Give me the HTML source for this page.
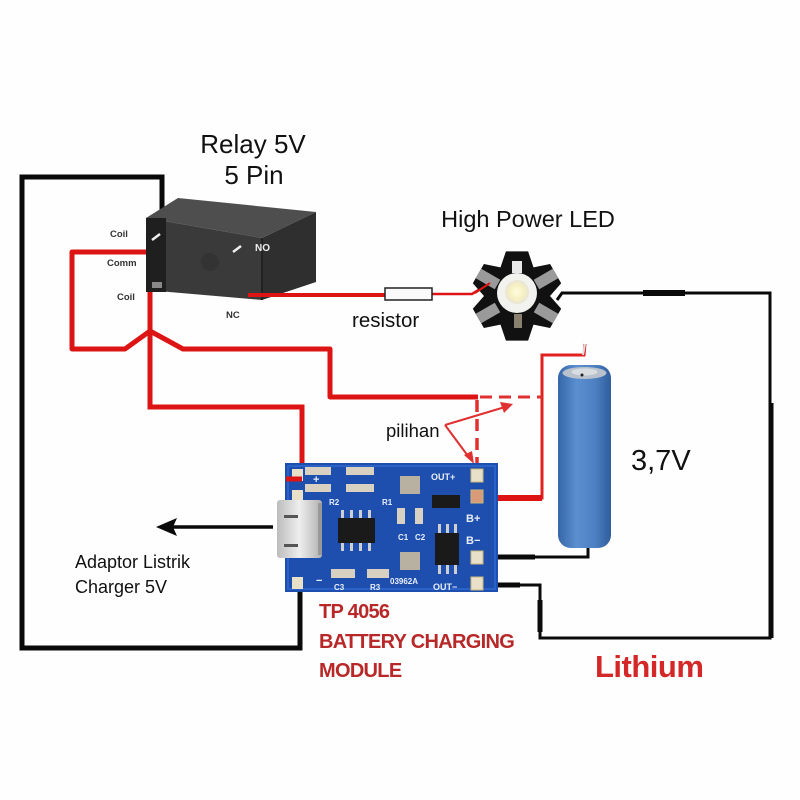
<!DOCTYPE html>
<html><head><meta charset="utf-8"><style>
html,body{margin:0;padding:0;background:#fff;}
svg{display:block;}
text{font-family:"Liberation Sans",sans-serif;}
</style></head><body>
<svg width="800" height="800" viewBox="0 0 800 800" xmlns="http://www.w3.org/2000/svg">
<defs>
<linearGradient id="bat" x1="0" x2="1" y1="0" y2="0">
<stop offset="0" stop-color="#3566a8"/><stop offset="0.35" stop-color="#5a8fd0"/><stop offset="0.7" stop-color="#4c80c2"/><stop offset="1" stop-color="#2f5c9c"/>
</linearGradient>
<linearGradient id="usb" x1="0" x2="1" y1="0" y2="0">
<stop offset="0" stop-color="#bcbcbc"/><stop offset="0.5" stop-color="#eeeeee"/><stop offset="1" stop-color="#b0b0b0"/>
</linearGradient>
<radialGradient id="led" cx="0.5" cy="0.5" r="0.5">
<stop offset="0" stop-color="#fffde0"/><stop offset="0.6" stop-color="#f6f0c0"/><stop offset="1" stop-color="#e8e4d8"/>
</radialGradient>
</defs>
<rect width="800" height="800" fill="#fefefe"/>

<!-- Titles -->
<text x="253" y="153" font-size="26" text-anchor="middle" fill="#111">Relay 5V</text>
<text x="254" y="184" font-size="26" text-anchor="middle" fill="#111">5 Pin</text>
<text x="528" y="227" font-size="23.5" text-anchor="middle" fill="#111">High Power LED</text>

<!-- Left black loop -->
<polyline points="162,231 162,177 22,177 22,648 300,648 300,583" fill="none" stroke="#0a0a0a" stroke-width="5" stroke-linejoin="miter"/>

<!-- Red wires relay -->
<polyline points="148,252 72,252 72,349 125,349 150,331 183,349 330,349 330,397 478,397" fill="none" stroke="#dd1414" stroke-width="5" stroke-linejoin="round"/>
<polyline points="150,285 150,407 302,407 302,479 286,479" fill="none" stroke="#dd1414" stroke-width="5" stroke-linejoin="miter"/>

<!-- Relay body -->
<polygon points="146,218 178,198 316,212 262,238" fill="#4e4e4e"/>
<polygon points="146,218 262,238 262,300 146,290" fill="#3a3a3a"/>
<polygon points="262,238 316,212 316,282 262,300" fill="#2f2f2f"/>
<rect x="146" y="218" width="20" height="74" fill="#1f1f1f"/>
<circle cx="210" cy="262" r="9" fill="#333"/>
<line x1="262" y1="238" x2="262" y2="300" stroke="#222" stroke-width="2"/>
<line x1="152" y1="240" x2="160" y2="234" stroke="#eee" stroke-width="2.5"/>
<line x1="233" y1="252" x2="241" y2="246" stroke="#eee" stroke-width="2.5"/>
<text x="255" y="251" font-size="10" font-weight="bold" fill="#eee">NO</text>
<rect x="152" y="282" width="10" height="6" fill="#888"/>
<text x="110" y="237" font-size="9.5" font-weight="bold" fill="#333">Coil</text>
<text x="107" y="266" font-size="9.5" font-weight="bold" fill="#333">Comm</text>
<text x="117" y="300" font-size="9.5" font-weight="bold" fill="#333">Coil</text>
<text x="226" y="318" font-size="9.5" font-weight="bold" fill="#333">NC</text>

<!-- Relay to resistor to LED -->
<polyline points="248,295 385,295" fill="none" stroke="#dd1414" stroke-width="4"/>
<polyline points="432,294 472,294 490,283" fill="none" stroke="#dd1414" stroke-width="2.5"/>
<rect x="385" y="288" width="47" height="12" fill="#fafafa" stroke="#222" stroke-width="1.5"/>
<text x="352" y="327" font-size="20.5" fill="#111">resistor</text>

<!-- LED star -->
<polygon points="505.9,251.4 528.1,251.4 533.5,267.4 550.1,264.0 561.2,283.3 550,296 561.2,308.7 550.1,328.0 533.5,324.6 528.1,340.6 505.9,340.6 500.5,324.6 483.9,328.0 472.8,308.7 484,296 472.8,283.3 483.9,264.0 500.5,267.4" fill="#111"/>
<rect x="-5.5" y="-11" width="11" height="22" fill="#9a9a9a" transform="translate(546,279) rotate(60)"/>
<rect x="-5.5" y="-11" width="11" height="22" fill="#9a9a9a" transform="translate(546,313) rotate(-60)"/>
<rect x="-5.5" y="-11" width="11" height="22" fill="#9a9a9a" transform="translate(488,313) rotate(60)"/>
<rect x="-5.5" y="-11" width="11" height="22" fill="#9a9a9a" transform="translate(488,279) rotate(-60)"/>
<rect x="512" y="261" width="10" height="12" fill="#e8e8e8"/>
<rect x="514" y="314" width="8" height="14" fill="#8a8070"/>
<circle cx="517" cy="293" r="20" fill="#f2f2ee"/>
<circle cx="517" cy="292" r="12" fill="url(#led)"/>
<polyline points="490,283 475,293" fill="none" stroke="#dd1414" stroke-width="2"/>

<!-- Right black wire loop -->
<polyline points="557,300 562,293 770,293 770,638 540,638 540,585 492,585" fill="none" stroke="#0a0a0a" stroke-width="3"/>
<line x1="643" y1="293" x2="685" y2="293" stroke="#0a0a0a" stroke-width="6"/>
<line x1="771" y1="403" x2="771" y2="638" stroke="#0a0a0a" stroke-width="5"/>
<line x1="540" y1="600" x2="540" y2="632" stroke="#0a0a0a" stroke-width="5"/>
<line x1="492" y1="585" x2="520" y2="585" stroke="#0a0a0a" stroke-width="5"/>

<!-- Battery wire -->
<polyline points="488,557 588,557 588,546" fill="none" stroke="#0a0a0a" stroke-width="3"/>
<line x1="488" y1="557" x2="535" y2="557" stroke="#0a0a0a" stroke-width="5"/>

<!-- Red battery + wire and dashed option -->
<polyline points="478,498 542,498 542,355 584,355 585,344" fill="none" stroke="#e22020" stroke-width="3"/>
<line x1="478" y1="498" x2="542" y2="498" stroke="#dd1414" stroke-width="6"/>
<line x1="480" y1="397" x2="542" y2="397" stroke="#e03030" stroke-width="3" stroke-dasharray="12,7"/>
<line x1="477" y1="400" x2="477" y2="470" stroke="#e03030" stroke-width="3.5" stroke-dasharray="12,7"/>
<line x1="583" y1="355" x2="585" y2="344" stroke="#ddd" stroke-width="2"/>

<!-- pilihan -->
<text x="386" y="437" font-size="18.5" fill="#111">pilihan</text>
<line x1="445" y1="425" x2="505" y2="407" stroke="#e03030" stroke-width="2"/>
<polygon points="513,404 500,402 504,413" fill="#e03030"/>
<line x1="445" y1="425" x2="468" y2="456" stroke="#e03030" stroke-width="2"/>
<polygon points="474,464 464,455 472,451" fill="#e03030"/>

<!-- Battery -->
<rect x="558" y="365" width="53" height="183" rx="13" fill="url(#bat)"/>
<ellipse cx="584.5" cy="373" rx="22" ry="6" fill="#b9c2cc"/>
<ellipse cx="584.5" cy="372" rx="13" ry="3.5" fill="#d8dde2"/>
<circle cx="582" cy="375" r="1.5" fill="#222"/>
<text x="631" y="470" font-size="29" fill="#111">3,7V</text>

<!-- TP4056 module -->
<rect x="285" y="463" width="213" height="129" fill="#1f4fae"/>
<rect x="288" y="466" width="207" height="123" fill="none" stroke="#2a62c8" stroke-width="2"/>
<!-- pads -->
<rect x="471" y="469" width="12" height="13" fill="#e8e0c8" stroke="#c9b87a"/>
<rect x="471" y="490" width="12" height="13" fill="#d99a78" stroke="#c9b87a"/>
<rect x="471" y="551" width="12" height="13" fill="#e8e0c8" stroke="#c9b87a"/>
<rect x="471" y="577" width="12" height="13" fill="#e8e0c8" stroke="#c9b87a"/>
<rect x="292" y="469" width="11" height="12" fill="#e8e0c8"/>
<rect x="292" y="490" width="11" height="12" fill="#e8e0c8"/>
<rect x="292" y="577" width="11" height="12" fill="#e8e0c8"/>
<!-- components -->
<rect x="305" y="467" width="26" height="8" fill="#d8d0c0"/>
<rect x="346" y="467" width="28" height="8" fill="#d8d0c0"/>
<rect x="305" y="484" width="26" height="8" fill="#d8d0c0"/>
<rect x="346" y="484" width="28" height="8" fill="#d8d0c0"/>
<rect x="400" y="476" width="20" height="18" fill="#b8b0a0"/>
<rect x="397" y="508" width="8" height="16" fill="#d8d0c0"/>
<rect x="415" y="508" width="8" height="16" fill="#d8d0c0"/>
<rect x="400" y="552" width="20" height="18" fill="#b8b0a0"/>
<rect x="331" y="569" width="24" height="9" fill="#d8d0c0"/>
<rect x="367" y="569" width="22" height="9" fill="#d8d0c0"/>
<!-- chips -->
<g fill="#cfcfcf">
<rect x="341" y="510" width="3" height="9"/><rect x="350" y="510" width="3" height="9"/><rect x="359" y="510" width="3" height="9"/><rect x="368" y="510" width="3" height="9"/>
<rect x="341" y="542" width="3" height="9"/><rect x="350" y="542" width="3" height="9"/><rect x="359" y="542" width="3" height="9"/><rect x="368" y="542" width="3" height="9"/>
<rect x="438" y="524" width="3" height="10"/><rect x="446" y="524" width="3" height="10"/><rect x="454" y="524" width="3" height="10"/>
<rect x="438" y="564" width="3" height="10"/><rect x="446" y="564" width="3" height="10"/><rect x="454" y="564" width="3" height="10"/>
</g>
<rect x="338" y="518" width="37" height="25" fill="#1a1a1a"/>
<rect x="435" y="533" width="24" height="32" fill="#1a1a1a"/>
<rect x="432" y="495" width="28" height="13" fill="#1a1a1a"/>
<!-- labels -->
<g fill="#e8eef8" font-size="9" font-weight="bold">
<text x="431" y="480">OUT+</text>
<text x="466" y="522" font-size="11">B+</text>
<text x="466" y="544" font-size="11">B−</text>
<text x="433" y="590">OUT−</text>
<text x="390" y="584" font-size="8">03962A</text>
<text x="334" y="590" font-size="8">C3</text>
<text x="370" y="590" font-size="8">R3</text>
<text x="329" y="505" font-size="8">R2</text>
<text x="382" y="505" font-size="8">R1</text>
<text x="398" y="540" font-size="8">C1</text>
<text x="415" y="540" font-size="8">C2</text>
<text x="313" y="483" font-size="11">+</text>
<text x="316" y="584" font-size="11">−</text>
</g>
<!-- USB -->
<rect x="277" y="500" width="45" height="58" rx="3" fill="url(#usb)"/>
<rect x="284" y="515" width="14" height="3" fill="#555"/>
<rect x="284" y="544" width="14" height="3" fill="#555"/>
<rect x="318" y="503" width="4" height="52" fill="#999"/>

<!-- red wire stub over pad + -->
<line x1="286" y1="479" x2="302" y2="479" stroke="#dd1414" stroke-width="5"/>

<!-- Arrow -->
<line x1="173" y1="527" x2="273" y2="527" stroke="#0a0a0a" stroke-width="3.5"/>
<polygon points="156,527 177,518 173,527 177,536" fill="#0a0a0a"/>
<text x="75" y="568" font-size="18" fill="#111">Adaptor Listrik</text>
<text x="75" y="593" font-size="18" fill="#111">Charger 5V</text>

<!-- Module title -->
<g fill="#b82828" font-size="20" font-weight="bold" letter-spacing="-0.7">
<text x="319" y="618">TP 4056</text>
<text x="319" y="648">BATTERY CHARGING</text>
<text x="319" y="677">MODULE</text>
</g>
<text x="595" y="677" font-size="31" font-weight="bold" fill="#d42828" letter-spacing="-0.5">Lithium</text>
</svg>
</body></html>
